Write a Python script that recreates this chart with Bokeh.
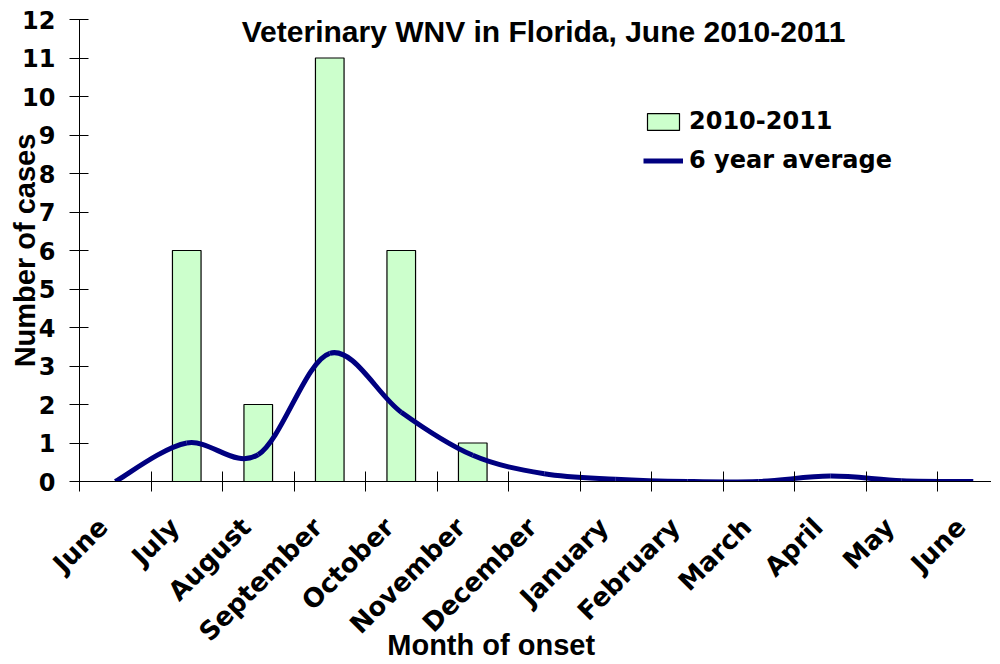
import math
from bokeh.plotting import figure
from bokeh.models import Range1d, FixedTicker, Label, Legend, LegendItem
from bokeh.embed import file_html
from bokeh.resources import INLINE

# ---- data ----
months = ["June", "July", "August", "September", "October", "November",
          "December", "January", "February", "March", "April", "May", "June"]
cases_2010_2011 = [0, 6, 2, 11, 6, 1, 0, 0, 0, 0, 0, 0, 0]
six_year_avg = [0, 1.0, 0.7, 3.33, 1.8, 0.68, 0.2, 0.06, 0, 0, 0.14, 0.02, 0]
y_ticks = list(range(0, 13))

# category centres and boundaries on a numeric axis
centers = [i + 0.5 for i in range(len(months))]
bounds = list(range(len(months) + 1))
# rotated labels end slightly left of the category centre (as in the original)
label_pos = [round(c - 0.17, 2) for c in centers]

TICK_FONT = "DejaVu Sans"
TITLE_FONT = "Liberation Sans"

p = figure(width=991, height=663,
           x_range=Range1d(0, 12.755), y_range=Range1d(0, 12),
           output_backend="svg", toolbar_location=None,
           min_border_left=79, min_border_right=0,
           min_border_top=19, min_border_bottom=182)
p.outline_line_color = None
p.xgrid.visible = False
p.ygrid.visible = False
p.background_fill_color = "white"
p.border_fill_color = "white"

# bars
bx = [c for c, v in zip(centers, cases_2010_2011) if v > 0]
bh = [v for v in cases_2010_2011 if v > 0]
bars = p.vbar(x=bx, top=bh, bottom=0, width=0.4,
              fill_color="#CCFFCC", line_color="black", line_width=1.2)

# smoothed line (Excel-style smoothing through the data points)
n = len(six_year_avg)
x0s, y0s, x1s, y1s, cx0s, cy0s, cx1s, cy1s = ([] for _ in range(8))
for i in range(n - 1):
    a = max(i - 1, 0)
    d = min(i + 2, n - 1)
    xa, ya = centers[a], six_year_avg[a]
    xb, yb = centers[i], six_year_avg[i]
    xc, yc = centers[i + 1], six_year_avg[i + 1]
    xd, yd = centers[d], six_year_avg[d]
    x0s.append(xb); y0s.append(yb)
    x1s.append(xc); y1s.append(yc)
    cx0s.append(xb + (xc - xa) / 6.0); cy0s.append(yb + (yc - ya) / 6.0)
    cx1s.append(xc - (xd - xb) / 6.0); cy1s.append(yc - (yd - yb) / 6.0)
curve = p.bezier(x0=x0s, y0=y0s, x1=x1s, y1=y1s,
                 cx0=cx0s, cy0=cy0s, cx1=cx1s, cy1=cy1s,
                 line_color="#000080", line_width=5)

# y axis
yax = p.yaxis[0]
yax.ticker = FixedTicker(ticks=y_ticks)
yax.minor_tick_line_color = None
yax.major_tick_in = 9
yax.major_tick_out = 10
yax.axis_line_color = "black"
yax.major_tick_line_color = "black"
yax.major_label_text_font = TICK_FONT
yax.major_label_text_font_style = "bold"
yax.major_label_text_font_size = "24px"
yax.major_label_text_color = "black"
yax.major_label_standoff = 14
yax.axis_label = "Number of cases"
yax.axis_label_text_font = TITLE_FONT
yax.axis_label_text_font_style = "bold"
yax.axis_label_text_font_size = "29px"
yax.axis_label_text_color = "black"
yax.axis_label_standoff = -22

# x axis: labels near category centres, tick marks at boundaries
xax = p.xaxis[0]
xax.ticker = FixedTicker(ticks=label_pos, minor_ticks=bounds)
xax.major_label_overrides = {lp: m for lp, m in zip(label_pos, months)}
xax.major_tick_line_color = None
xax.major_tick_in = 0
xax.major_tick_out = 0
xax.minor_tick_line_color = "black"
xax.minor_tick_in = 10
xax.minor_tick_out = 10
xax.axis_line_color = "black"
xax.major_label_orientation = math.pi / 4
xax.major_label_text_font = TICK_FONT
xax.major_label_text_font_style = "bold"
xax.major_label_text_font_size = "26px"
xax.major_label_text_color = "black"
xax.major_label_standoff = 31
# trailing no-break spaces shift the visible title left of the frame centre,
# where the original places it
xax.axis_label = "Month of onset" + "\u00a0" * 11
xax.axis_label_text_font = TITLE_FONT
xax.axis_label_text_font_style = "bold"
xax.axis_label_text_font_size = "29px"
xax.axis_label_text_color = "black"
xax.axis_label_standoff = -32

# title inside the frame
p.add_layout(Label(x=6.49, y=11.69, text="Veterinary WNV in Florida, June 2010-2011",
                   text_font=TITLE_FONT, text_font_style="bold", text_font_size="30px",
                   text_align="center", text_baseline="alphabetic", text_color="black"))

legend = Legend(items=[LegendItem(label="2010-2011", renderers=[bars]),
                       LegendItem(label="6 year average", renderers=[curve])],
                location=(564, 307), orientation="vertical",
                glyph_width=40, glyph_height=21, label_height=21,
                spacing=11, padding=0, margin=0, label_standoff=6,
                border_line_color=None, background_fill_alpha=0,
                label_text_font=TICK_FONT, label_text_font_style="bold",
                label_text_font_size="24px", label_text_color="black")
p.add_layout(legend)

open("out.html", "w").write(file_html(p, INLINE))
